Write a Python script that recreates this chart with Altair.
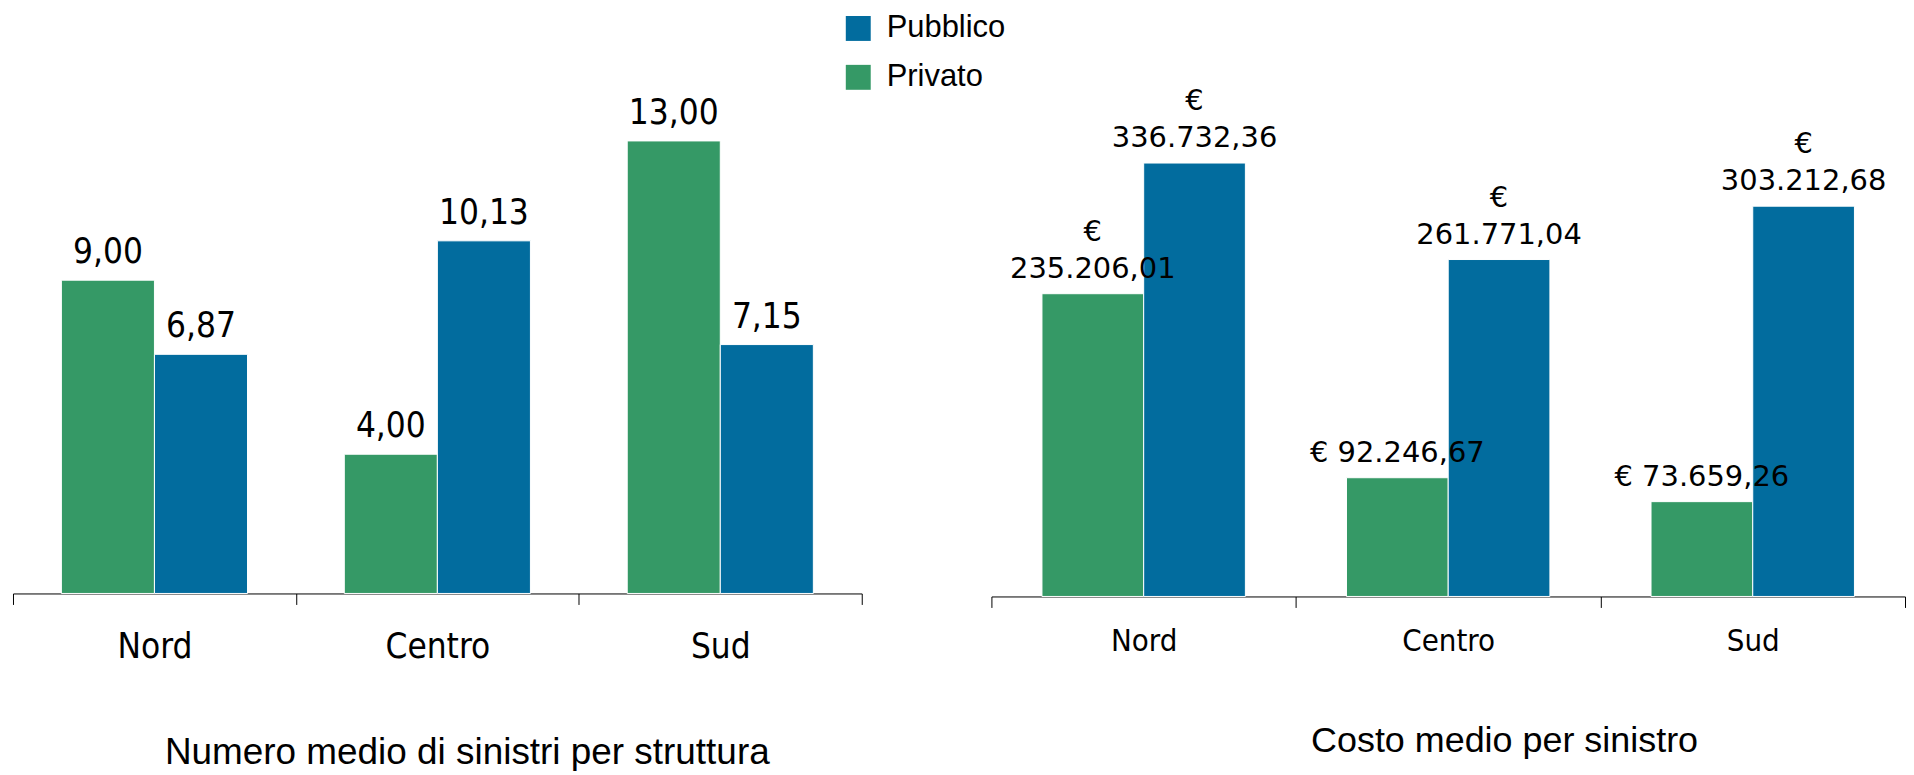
import altair as alt
import pandas as pd

# ---- data ----
regions = ["Nord", "Centro", "Sud"]
series = ["Privato", "Pubblico"]
num_privato = [9.00, 4.00, 13.00]
num_pubblico = [6.87, 10.13, 7.15]
cost_privato = [235206.01, 92246.67, 73659.26]
cost_pubblico = [336732.36, 261771.04, 303212.68]

legend_order = ["Pubblico", "Privato"]
colors = ["#026C9E", "#359966"]

TXT_C = "DejaVu Sans Condensed, DejaVu Sans"
TXT = "DejaVu Sans"
TTL = "Liberation Sans, Arial"


def it_num(v):
    s = f"{v:,.2f}"
    return s.replace(",", "X").replace(".", ",").replace("X", ".")


rows_n = []
for r, a, b in zip(regions, num_privato, num_pubblico):
    rows_n.append({"region": r, "series": "Privato", "value": a, "label": it_num(a)})
    rows_n.append({"region": r, "series": "Pubblico", "value": b, "label": it_num(b)})
df_n = pd.DataFrame(rows_n)

rows_c = []
for r, a, b in zip(regions, cost_privato, cost_pubblico):
    for s, v in (("Privato", a), ("Pubblico", b)):
        wrap = v >= 100000
        lab = ("€\n" if wrap else "€ ") + it_num(v)
        rows_c.append({"region": r, "series": s, "value": v, "label": lab, "wrap": wrap})
df_c = pd.DataFrame(rows_c)


def panel(df, w, h, ymax, pad_off, lab_font, lab_fs, lab_pad, title, title_fs, title_x, title_y,
          val_font, val_fs, val_dy, split_wrap):
    xenc = alt.X(
        "region:N", sort=regions,
        scale=alt.Scale(paddingInner=0, paddingOuter=0),
        axis=alt.Axis(
            title=title, titleFont=TTL, titleFontSize=title_fs, titleFontWeight="normal",
            titleColor="black", titleX=title_x, titleY=title_y, titleAlign="center",
            titleBaseline="middle",
            labelFont=lab_font, labelFontSize=lab_fs, labelColor="black", labelAngle=0,
            labelBaseline="middle", labelPadding=lab_pad,
            tickBand="extent", tickSize=11, tickColor="black", tickWidth=1,
            domainColor="black", domainWidth=1, grid=False,
        ),
    )
    xoff = alt.XOffset("series:N", sort=series,
                       scale=alt.Scale(paddingInner=0, paddingOuter=pad_off))
    yenc = alt.Y("value:Q", scale=alt.Scale(domain=[0, ymax], nice=False, zero=True), axis=None)
    cenc = alt.Color("series:N", scale=alt.Scale(domain=legend_order, range=colors),
                     legend=alt.Legend(title=None, orient="none", legendX=832, legendY=4))
    base = alt.Chart(df)
    bars = base.mark_bar(stroke="white", strokeWidth=1).encode(x=xenc, xOffset=xoff, y=yenc, color=cenc)
    layers = [bars]
    if split_wrap:
        t1 = base.transform_filter("datum.wrap").mark_text(
            baseline="bottom", dy=val_dy - 37, font=val_font, fontSize=val_fs, lineBreak="\n",
            lineHeight=37, color="black").encode(x=xenc, xOffset=xoff, y=yenc, text="label:N")
        t2 = base.transform_filter("!datum.wrap").mark_text(
            baseline="bottom", dy=val_dy, font=val_font, fontSize=val_fs, color="black"
        ).encode(x=xenc, xOffset=xoff, y=yenc, text="label:N")
        layers += [t1, t2]
    else:
        t = base.mark_text(baseline="bottom", dy=val_dy, font=val_font, fontSize=val_fs,
                           color="black").encode(x=xenc, xOffset=xoff, y=yenc, text="label:N")
        layers.append(t)
    return alt.layer(*layers).properties(width=w, height=h)


left = panel(df_n, 851, 586, 16.79, 0.52, TXT_C, 35, 42,
             "Numero medio di sinistri per struttura", 37, 455, 159, TXT_C, 35, -10, False)
right = panel(df_c, 916, 589, 456400, 0.497, TXT_C, 31, 34,
              "Costo medio per sinistro", 36, 514, 144, TXT, 29, -10, True)

chart = alt.hconcat(left, right, spacing=128).resolve_scale(
    xOffset="independent"
).configure_view(stroke=None).configure_legend(
    symbolType="square", symbolSize=625, symbolStrokeWidth=0, labelFont=TTL,
    labelFontSize=31, labelColor="black", labelOffset=13, rowPadding=17, padding=0,
).properties(padding={"left": 4, "top": 0, "right": 0, "bottom": 0})

chart.save("out.html", embed_options={"renderer": "svg", "actions": False})
